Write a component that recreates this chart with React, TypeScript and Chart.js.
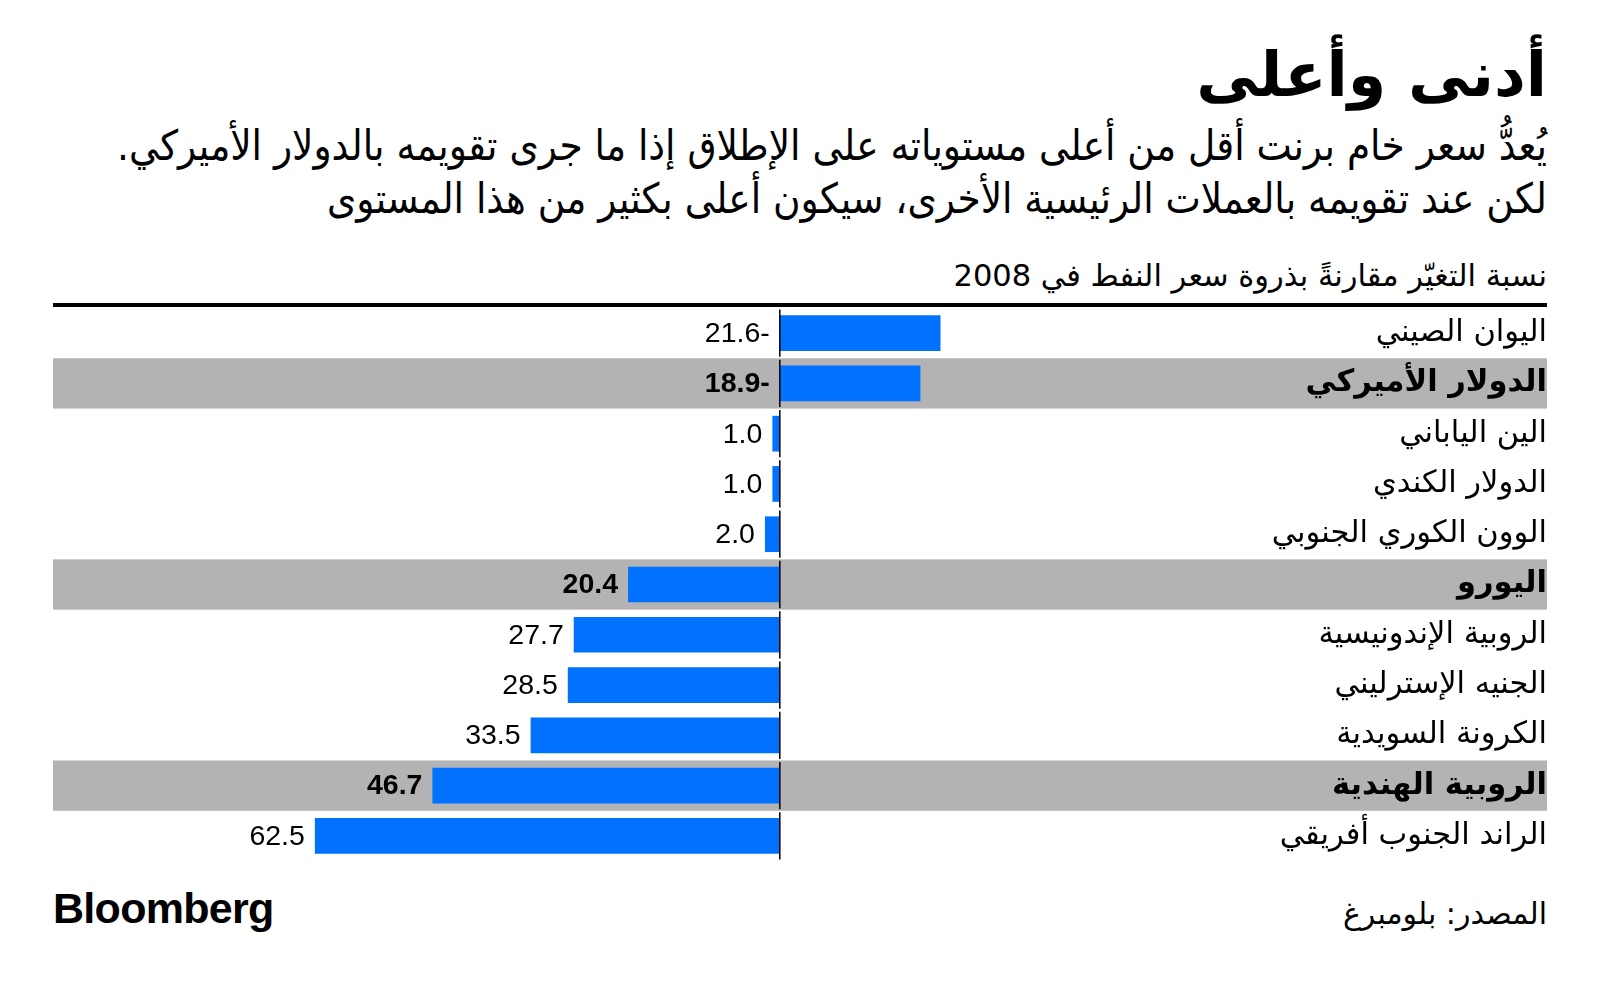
import React, { useEffect, useRef } from 'react';
import { Chart, registerables } from 'chart.js';
Chart.register(...registerables);

const title = 'أدنى وأعلى';
const subtitleLines = [
  'يُعدُّ سعر خام برنت أقل من أعلى مستوياته على الإطلاق إذا ما جرى تقويمه بالدولار الأميركي.',
  'لكن عند تقويمه بالعملات الرئيسية الأخرى، سيكون أعلى بكثير من هذا المستوى',
];
const header = 'نسبة التغيّر مقارنةً بذروة سعر النفط في 2008';
const source = 'المصدر: بلومبرغ';

const categories = [
  'اليوان الصيني',
  'الدولار الأميركي',
  'الين الياباني',
  'الدولار الكندي',
  'الوون الكوري الجنوبي',
  'اليورو',
  'الروبية الإندونيسية',
  'الجنيه الإسترليني',
  'الكرونة السويدية',
  'الروبية الهندية',
  'الراند الجنوب أفريقي',
];
const values = [-21.6, -18.9, 1.0, 1.0, 2.0, 20.4, 27.7, 28.5, 33.5, 46.7, 62.5];
const highlighted = [false, true, false, false, false, true, false, false, false, true, false];

const xMin = -62.8;
const xMax = 97.7;

const ARABIC = '"DejaVu Sans", sans-serif';
const ARABIC_COND = '"DejaVu Sans Condensed", "DejaVu Sans", sans-serif';
const NUM = '"Liberation Sans", Arial, sans-serif';

const fmt = (v: number) => (v < 0 ? Math.abs(v).toFixed(1) + '-' : v.toFixed(1));

export default function App() {
  const ref = useRef<HTMLCanvasElement>(null);

  useEffect(() => {
    if (!ref.current) return;

    const bandPlugin = {
      id: 'bands',
      beforeDraw(chart: any) {
        const { ctx, chartArea } = chart;
        const y = chart.scales.y;
        const half = (chartArea.bottom - chartArea.top) / categories.length / 2;
        ctx.save();
        ctx.fillStyle = '#b3b3b3';
        highlighted.forEach((h, i) => {
          if (!h) return;
          const c = y.getPixelForValue(i);
          ctx.fillRect(0, c - half, chart.width, half * 2);
        });
        ctx.restore();
      },
    };

    const labelPlugin = {
      id: 'valueLabels',
      afterDatasetsDraw(chart: any) {
        const { ctx, chartArea } = chart;
        const x0 = chart.scales.x.getPixelForValue(0);
        const half = (chartArea.bottom - chartArea.top) / categories.length / 2;
        const meta = chart.getDatasetMeta(0);
        ctx.save();
        ctx.strokeStyle = '#000';
        ctx.lineWidth = 1.5;
        meta.data.forEach((bar: any) => {
          ctx.beginPath();
          ctx.moveTo(x0, bar.y - half + 1.5);
          ctx.lineTo(x0, bar.y + half - 1.5);
          ctx.stroke();
        });
        ctx.fillStyle = '#000';
        ctx.textAlign = 'right';
        ctx.textBaseline = 'middle';
        meta.data.forEach((bar: any, i: number) => {
          const v = values[i];
          ctx.font = `${highlighted[i] ? 'bold ' : ''}28.5px ${NUM}`;
          const xEnd = v >= 0 ? Math.min(bar.x, bar.base) : x0;
          ctx.fillText(fmt(v), xEnd - 10, bar.y + 1);
        });
        ctx.restore();
      },
    };

    const chart = new Chart(ref.current, {
      type: 'bar',
      data: {
        labels: categories,
        datasets: [
          {
            data: values,
            backgroundColor: '#0072ff',
            borderWidth: 0,
            barPercentage: 0.71,
            categoryPercentage: 1,
          },
        ],
      },
      options: {
        indexAxis: 'y',
        animation: false,
        responsive: false,
        maintainAspectRatio: false,
        layout: { padding: 0 },
        plugins: { legend: { display: false }, tooltip: { enabled: false } },
        scales: {
          x: { type: 'linear', reverse: true, min: xMin, max: xMax, display: false },
          y: {
            position: 'right',
            grid: { display: false },
            border: { display: false },
            ticks: {
              crossAlign: 'far',
              color: '#000',
              padding: 0,
              font: (ctx: any) => ({
                family: ARABIC,
                size: 30.5,
                weight: highlighted[ctx.index] ? 'bold' : 'normal',
              }),
            },
            afterFit: (s: any) => {
              s.width = 300;
              s.paddingTop = 0;
              s.paddingBottom = 0;
            },
          },
        },
      },
      plugins: [bandPlugin, labelPlugin],
    } as any);

    return () => chart.destroy();
  }, []);

  const abs = (o: React.CSSProperties): React.CSSProperties => ({
    position: 'absolute',
    whiteSpace: 'nowrap',
    lineHeight: 1,
    ...o,
  });

  return (
    <div
      style={{
        position: 'absolute',
        left: 0,
        top: 0,
        width: 1600,
        height: 991,
        background: '#fff',
        color: '#000',
        fontFamily: ARABIC,
        overflow: 'hidden',
      }}
    >
      <div dir="rtl" style={abs({ right: 53, top: 44, fontSize: 62, fontWeight: 'bold' })}>
        {title}
      </div>
      <div dir="rtl" style={abs({ right: 53, top: 125, fontSize: 41.7, fontFamily: ARABIC_COND })}>
        {subtitleLines[0]}
      </div>
      <div dir="rtl" style={abs({ right: 53, top: 178, fontSize: 41.7, fontFamily: ARABIC_COND })}>
        {subtitleLines[1]}
      </div>
      <div dir="rtl" style={abs({ right: 53, top: 261, fontSize: 30.5 })}>
        {header}
      </div>
      <div style={{ position: 'absolute', left: 53, top: 303, width: 1494, height: 4, background: '#000' }} />
      <canvas
        ref={ref}
        width={1494}
        height={553}
        style={{ position: 'absolute', left: 53, top: 308, width: 1494, height: 553 }}
      />
      <div style={abs({ left: 53, top: 887, fontSize: 43, fontWeight: 'bold', fontFamily: NUM, letterSpacing: -0.7 })}>
        Bloomberg
      </div>
      <div dir="rtl" style={abs({ right: 53, top: 899, fontSize: 30 })}>
        {source}
      </div>
    </div>
  );
}
